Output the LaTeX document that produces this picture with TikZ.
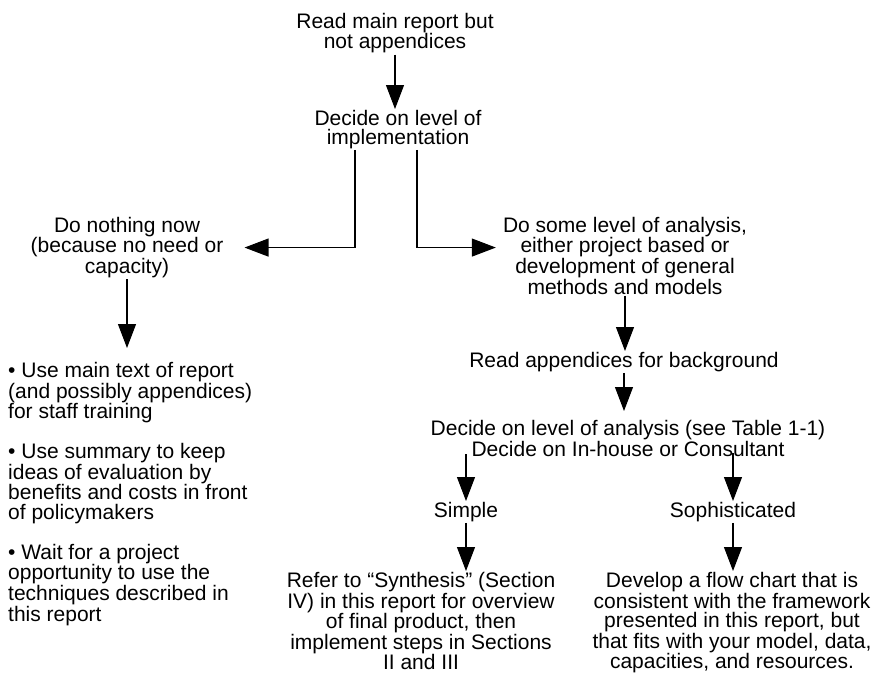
\documentclass[tikz,border=0pt]{standalone}
\usepackage{fontspec}
\setmainfont{Liberation Sans}
\usetikzlibrary{arrows.meta}

\tikzset{
  txt/.style={align=center, inner sep=1pt, anchor=north, font=\fontsize{21}{19.5}\selectfont},
  snug/.style={font=\fontsize{21}{19}\selectfont},
  arr/.style={line width=1.1pt, -{Triangle[length=24pt,width=18pt]}},
}

\begin{document}
\begin{tikzpicture}[x=1pt, y=-1pt]
	\useasboundingbox (0,0) rectangle (873,673);
	% top
	\node [txt, snug] (read) at (395,12) {Read main report but\\not appendices};
	\node [txt, snug] (impl) at (398,109) {Decide on level of\\implementation};
	% left branch
	\node [txt] (nothing) at (127,216) {Do nothing now\\(because no need or\\capacity)};
	\node [txt, align=left, anchor=north west] (uses) at (7,361) {%
		• Use main text of report\\(and possibly appendices)\\for staff training\\[19.5pt]%
		• Use summary to keep\\ideas of evaluation by\\benefits and costs in front\\of policymakers\\[19.5pt]%
		• Wait for a project\\opportunity to use the\\techniques described in\\this report};
	% right branch
	\node [txt] (some) at (625,216) {Do some level of analysis,\\either project based or\\development of general\\methods and models};
	\node [txt] (readapp) at (624,351) {Read appendices for background};
	\node [txt] (lvl) at (628,419) {Decide on level of analysis (see Table 1-1)\\Decide on In-house or Consultant};
	\node [txt] (simple) at (466,501) {Simple};
	\node [txt] (soph) at (733,501) {Sophisticated};
	\node [txt] (synth) at (421,571) {Refer to “Synthesis” (Section\\IV) in this report for overview\\of final product, then\\implement steps in Sections\\II and III};
	\node [txt] (dev) at (732,571) {Develop a flow chart that is\\consistent with the framework\\presented in this report, but\\that fits with your model, data,\\capacities, and resources.};
	% split points
	\coordinate (lft) at ([xshift=-43pt]impl.south);
	\coordinate (rgt) at ([xshift=19pt]impl.south);
	\coordinate (nothingR) at ([xshift=20pt]nothing.east);
	\path (some.west |- nothing.east) ++(-6pt,0) coordinate (someL);
	\coordinate (usesT) at ([yshift=13pt]nothing.south |- uses.north);
	\coordinate (lvlL) at ([yshift=3pt]simple.north |- lvl.south);
	\coordinate (lvlR) at ([yshift=4pt]soph.north |- lvl.south);
	% arrows
	\draw [arr] (read.south) -- (read.south |- impl.north);
	\draw [arr] (lft) |- (nothingR);
	\draw [arr] (rgt) |- (someL);
	\draw [arr] (nothing.south) -- (usesT);
	\draw [arr] (some.south) -- (some.south |- readapp.north);
	\draw [arr, shorten >=8pt] (readapp.south) -- (readapp.south |- lvl.north);
	\draw [arr] (lvlL) -- (simple.north);
	\draw [arr] (lvlR) -- (soph.north);
	\draw [arr] (simple.south) -- (simple.south |- synth.north);
	\draw [arr] (soph.south) -- (soph.south |- dev.north);
\end{tikzpicture}
\end{document}
